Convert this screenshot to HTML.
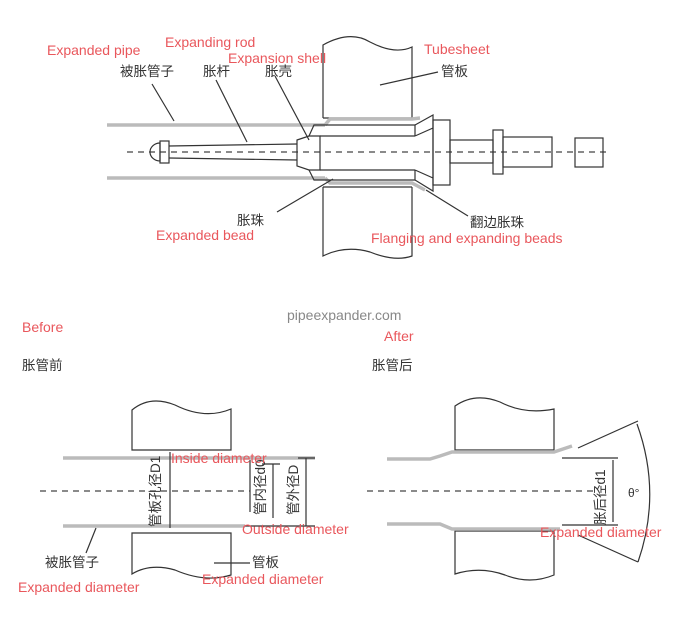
<!DOCTYPE html>
<html><head><meta charset="utf-8"><style>
html,body{margin:0;padding:0;background:#fff;}
svg{display:block;}
.r{fill:#e9575c;font-family:"Liberation Sans","Noto Sans CJK SC",sans-serif;font-size:14px;}
.c{fill:#333;font-family:"Liberation Sans","Noto Sans CJK SC",sans-serif;font-size:13.5px;}
.k{stroke:#333;stroke-width:1.2;fill:none;}
.g{stroke:#bbb;stroke-width:3.5;fill:none;}
.d{stroke:#444;stroke-width:1.3;stroke-dasharray:6,5;fill:none;}
</style></head><body>
<svg width="700" height="636" viewBox="0 0 700 636" xmlns="http://www.w3.org/2000/svg">
<!-- TOP DIAGRAM -->
<path class="k" d="M323,118 V45 Q350,30 370,42 Q395,55 412,47 V118"/>
<path class="k" d="M323,187 V256 Q345,245 370,252 Q395,262 412,256 V187"/>
<line class="k" x1="323" y1="118" x2="412" y2="118"/>
<line class="k" x1="323" y1="187" x2="412" y2="187"/>
<line class="g" x1="107" y1="125" x2="325" y2="125"/>
<path class="g" d="M325,125 L330,119 H412 L420,118"/>
<line class="g" x1="107" y1="178" x2="325" y2="178"/>
<path class="g" d="M325,178 L330,183 H412 L425,190"/>
<line class="d" x1="127" y1="152" x2="610" y2="152"/>
<!-- rod -->
<path class="k" d="M160,143 A10,9 0 0 0 160,161 Z"/>
<rect class="k" x="160" y="141" width="9" height="22"/>
<path class="k" d="M169,146 L297,144 M169,158 L297,160"/>
<!-- shell -->
<path class="k" d="M297,140 L309,136 H320 V170 H309 L297,166 Z"/>
<path class="k" d="M309,136 L314,125 H415 V136 M309,170 L314,180 H415 V170"/>
<path class="k" d="M320,136 H415 M320,170 H415"/>
<path class="k" d="M415,125 L433,115 V191 L415,180 M415,136 L433,128 M415,170 L433,178"/>
<rect class="k" x="433" y="120" width="17" height="65"/>
<rect class="k" x="450" y="140" width="43" height="23"/>
<rect class="k" x="493" y="130" width="10" height="44"/>
<rect class="k" x="503" y="137" width="49" height="30"/>
<rect class="k" x="575" y="138" width="28" height="29"/>
<!-- leaders -->
<path class="k" stroke-width="0.8" d="M152,84 L174,121 M216,80 L247,142 M275,76 L309,140 M380,85 L438,72 M333,179 L277,212 M426,190 L468,216"/>
<text class="r" x="47" y="55">Expanded pipe</text>
<text class="r" x="165" y="47">Expanding rod</text>
<text class="r" x="228" y="63">Expansion shell</text>
<text class="r" x="424" y="54">Tubesheet</text>
<text class="c" x="120" y="76">被胀管子</text>
<text class="c" x="203" y="76">胀杆</text>
<text class="c" x="265" y="76">胀壳</text>
<text class="c" x="441" y="76">管板</text>
<text class="c" x="237" y="225">胀珠</text>
<text class="c" x="470" y="227">翻边胀珠</text>
<text class="r" x="156" y="240">Expanded bead</text>
<text class="r" x="371" y="243">Flanging and expanding beads</text>

<!-- MIDDLE -->
<text class="r" x="22" y="332">Before</text>
<text x="287" y="320" font-family="Liberation Sans,sans-serif" font-size="14" fill="#888">pipeexpander.com</text>
<text class="r" x="384" y="341">After</text>
<text class="c" x="22" y="370" font-size="16">胀管前</text>
<text class="c" x="372" y="370" font-size="16">胀管后</text>

<!-- BOTTOM LEFT -->
<path class="k" d="M132,450 V410 Q150,395 175,405 Q205,420 231,409 V450 Z"/>
<path class="k" d="M132,533 V574 Q150,563 175,570 Q205,583 231,575 V533 Z"/>
<line class="g" x1="63" y1="458" x2="315" y2="458" stroke-width="3"/>
<line class="g" x1="63" y1="526" x2="245" y2="526" stroke-width="3"/>
<line class="k" stroke-width="0.8" x1="245" y1="526" x2="315" y2="526"/>
<line class="d" x1="40" y1="491" x2="250" y2="491"/>
<path class="k" stroke-width="0.9" d="M170,452 V528 M273,464 V518 M306,458 V526 M250,460 V512 M262,464 H280 M298,458 H315"/>
<text class="c" font-size="10" transform="translate(160,527) rotate(-90)">管板孔径D1</text>
<text class="c" font-size="10" transform="translate(265,515) rotate(-90)">管内径d0</text>
<text class="c" font-size="10" transform="translate(298,515) rotate(-90)">管外径D</text>
<path class="k" stroke-width="0.8" d="M96,528 L86,553 M214,563 H250"/>
<text class="r" x="171" y="463">Inside diameter</text>
<text class="r" x="242" y="534">Outside diameter</text>
<text class="c" x="45" y="567" font-size="12">被胀管子</text>
<text class="c" x="252" y="567" font-size="12">管板</text>
<text class="r" x="18" y="592">Expanded diameter</text>
<text class="r" x="202" y="584">Expanded diameter</text>

<!-- BOTTOM RIGHT -->
<path class="k" d="M455,450 V406 Q475,392 500,402 Q525,415 554,409 V450 Z"/>
<path class="k" d="M455,531 V574 Q480,566 505,575 Q530,585 554,575 V531 Z"/>
<path class="g" stroke-width="3" d="M387,459 H430 L440,456 L452,452 H554 L572,446"/>
<path class="g" stroke-width="3" d="M387,524 H440 L452,529 H560"/>
<line class="d" x1="367" y1="491" x2="595" y2="491"/>
<path class="k" stroke-width="0.9" d="M578,448 L638,421 M578,535 L638,562 M637,424 Q662,493 638,562 M562,458 H618 M562,525 H618 M613,460 V522"/>
<text class="c" font-size="10" transform="translate(605,525) rotate(-90)">胀后径d1</text>
<text x="628" y="497" font-family="Liberation Sans,sans-serif" font-size="12" fill="#333">θ°</text>
<text class="r" x="540" y="537">Expanded diameter</text>
</svg>
</body></html>
